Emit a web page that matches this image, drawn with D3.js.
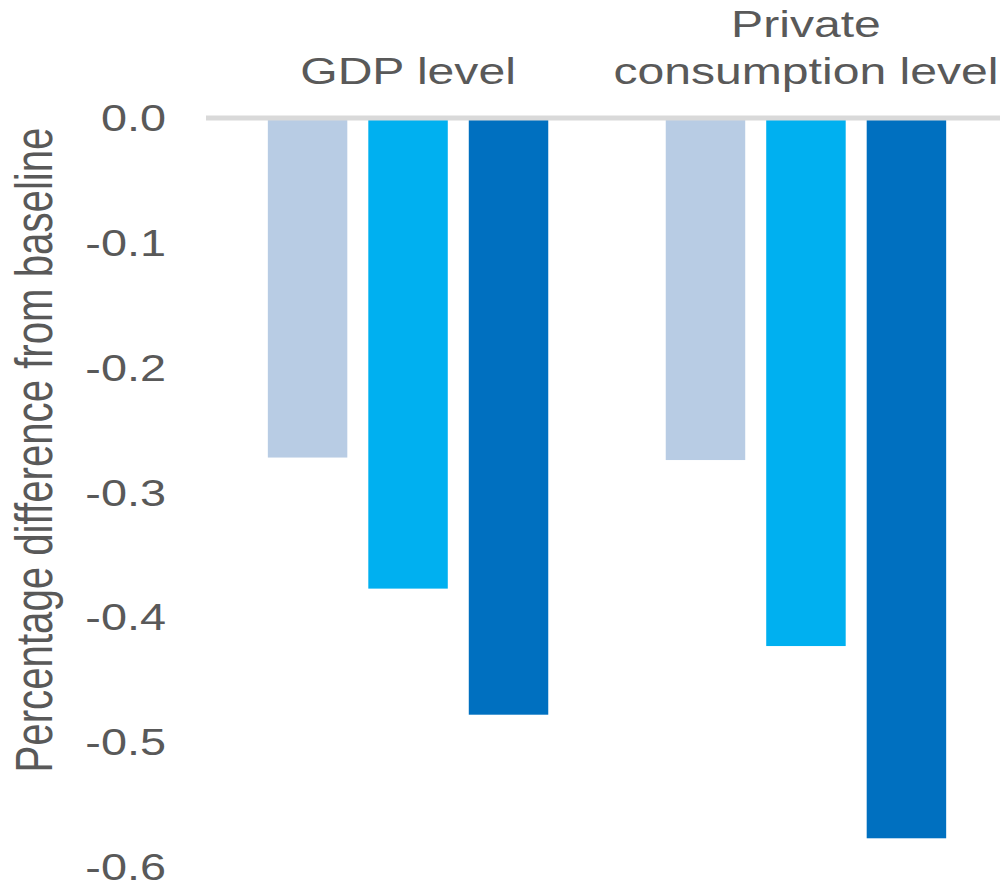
<!DOCTYPE html>
<html>
<head>
<meta charset="utf-8">
<script src="https://cdn.jsdelivr.net/npm/d3@7"></script>
<style>
  html, body { margin: 0; padding: 0; background: #ffffff; }
  svg { display: block; }
  text { font-family: "Liberation Sans", Arial, sans-serif; fill: #595959; }
</style>
</head>
<body>
<div id="chart"></div>
<script>
// ---- data ----
const categories = ["GDP level", "Private consumption level"];
const categoryLines = [["GDP level"], ["Private", "consumption level"]];
const seriesNames = ["Scenario 1", "Scenario 2", "Scenario 3"];
const seriesColors = ["#b8cce4", "#00b0f0", "#0070c0"];
const values = [
  [-0.272, -0.377, -0.478],   // GDP level
  [-0.274, -0.423, -0.577]    // Private consumption level
];
const yTicks = [0, -0.1, -0.2, -0.3, -0.4, -0.5, -0.6];
const yTitle = "Percentage difference from baseline";

// ---- layout ----
const W = 1000, H = 886;
const sx = 1.3; // horizontal stretch of the whole drawing
const svg = d3.select("#chart").append("svg").attr("width", W).attr("height", H);
const g = svg.append("g").attr("transform", `scale(${sx},1)`);

const y = d3.scaleLinear().domain([-0.6, 0]).range([867, 118]);

const x0 = d3.scaleBand().domain(categories)
  .range([206 / sx, 1008 / sx]).paddingInner(0.2425).paddingOuter(0.129);
const x1 = d3.scaleBand().domain(seriesNames)
  .range([0, x0.bandwidth()]).paddingInner(0.209).paddingOuter(0.1045);

// bars
const groups = g.selectAll("g.cat").data(categories).join("g")
  .attr("class", "cat")
  .attr("transform", d => `translate(${x0(d)},0)`);
groups.selectAll("rect").data((d, i) => values[i].map((v, j) => ({ v, s: seriesNames[j], c: seriesColors[j] })))
  .join("rect")
  .attr("x", d => x1(d.s))
  .attr("width", x1.bandwidth())
  .attr("y", d => y(Math.max(0, d.v)))
  .attr("height", d => Math.abs(y(d.v) - y(0)))
  .attr("fill", d => d.c);

// zero line
g.append("line")
  .attr("x1", 206 / sx).attr("x2", W / sx)
  .attr("y1", y(0)).attr("y2", y(0))
  .attr("stroke", "#d9d9d9").attr("stroke-width", 5);

// y axis labels
const yAxis = d3.axisLeft(y).tickValues(yTicks).tickSize(0).tickPadding(0)
  .tickFormat(d3.format(".1f"));
const ya = g.append("g").attr("transform", `translate(${166 / sx},1)`).call(yAxis);
ya.select(".domain").remove();
ya.selectAll("text")
  .attr("font-size", 36)
  .attr("font-family", "Liberation Sans, Arial, sans-serif")
  .attr("fill", "#595959")
  .text(d => d === 0 ? "0.0" : d3.format(".1f")(d).replace("−", "-"));

// y title
g.append("text")
  .attr("transform", `translate(${40},${450}) rotate(-90)`)
  .attr("text-anchor", "middle")
  .attr("font-size", 40.2)
  .text(yTitle);

// category labels (top)
categories.forEach((c, i) => {
  const lines = categoryLines[i];
  const cx = x0(c) + x0.bandwidth() / 2;
  const t = g.append("text")
    .attr("text-anchor", "middle")
    .attr("font-size", 37);
  lines.forEach((ln, k) => {
    t.append("tspan")
      .attr("x", cx)
      .attr("y", 84 - (lines.length - 1 - k) * 47)
      .text(ln);
  });
});
</script>
</body>
</html>
